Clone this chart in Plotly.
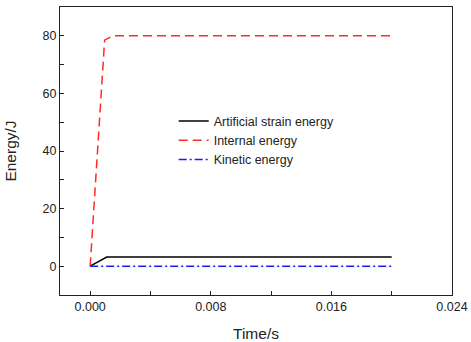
import plotly.graph_objects as go

# Data
t_artificial = [0.0, 0.0011, 0.020]
e_artificial = [0.0, 3.2, 3.2]

t_internal = [0.0, 0.00096, 0.0015, 0.020]
e_internal = [0.0, 78.5, 80.0, 80.0]

t_kinetic = [0.0, 0.020]
e_kinetic = [0.0, 0.0]

x_tickvals = [0.0, 0.008, 0.016, 0.024]
x_ticktext = ["0.000", "0.008", "0.016", "0.024"]
x_minor = [0.004, 0.012, 0.020]
y_tickvals = [0, 20, 40, 60, 80]
y_minor = [10, 30, 50, 70]

FONT = "Arial, Liberation Sans, sans-serif"
INK = "#222222"

fig = go.Figure()
fig.add_trace(go.Scatter(x=t_artificial, y=e_artificial, mode="lines",
                         name="Artificial strain energy",
                         line=dict(color="#000000", width=1.5)))
fig.add_trace(go.Scatter(x=t_internal, y=e_internal, mode="lines",
                         name="Internal energy",
                         line=dict(color="#ff2a2a", width=1.5, dash="9px,5px")))
fig.add_trace(go.Scatter(x=t_kinetic, y=e_kinetic, mode="lines",
                         name="Kinetic energy",
                         line=dict(color="#1a1aff", width=1.5, dash="8px,3px,2px,3px")))

axis_font = dict(family=FONT, size=12.5, color=INK)
title_font = dict(family=FONT, size=15.5, color=INK)

fig.update_layout(
    width=471, height=342,
    margin=dict(l=60, r=19, t=7, b=47),
    paper_bgcolor="white", plot_bgcolor="white",
    font=dict(family=FONT, color=INK),
    showlegend=True,
    legend=dict(x=0.29, y=0.655, xanchor="left", yanchor="top",
                bgcolor="rgba(0,0,0,0)", itemwidth=30,
                font=dict(family=FONT, size=12.5, color=INK),
                tracegroupgap=0),
    xaxis=dict(range=[-0.002, 0.024], tickvals=x_tickvals, ticktext=x_ticktext,
               ticks="inside", ticklen=4, tickcolor=INK, automargin=False,
               showline=True, linecolor=INK, linewidth=1.2, mirror=True,
               showgrid=False, zeroline=False, tickfont=axis_font,
               minor=dict(tickvals=x_minor, ticks="inside", ticklen=4, tickcolor=INK),
               title=dict(text="Time/s", font=title_font, standoff=16)),
    yaxis=dict(range=[-10, 90], tickvals=y_tickvals,
               ticks="inside", ticklen=4, tickcolor=INK, automargin=False,
               showline=True, linecolor=INK, linewidth=1.2, mirror=True,
               showgrid=False, zeroline=False, tickfont=axis_font,
               minor=dict(tickvals=y_minor, ticks="inside", ticklen=4, tickcolor=INK),
               title=dict(text="Energy/J", font=title_font, standoff=22)),
)

fig.write_html("out.html")
